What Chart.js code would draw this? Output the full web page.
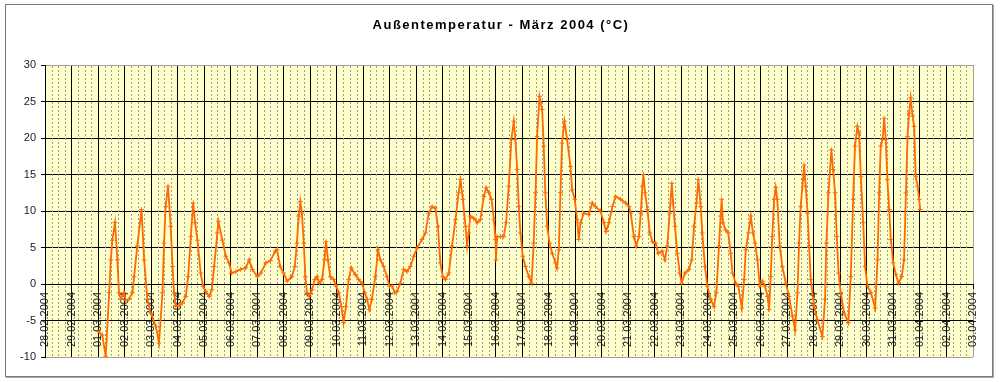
<!DOCTYPE html>
<html>
<head>
<meta charset="utf-8">
<script src="https://cdn.jsdelivr.net/npm/chart.js@4/dist/chart.umd.min.js"></script>
<style>
html,body{margin:0;padding:0;background:#fff;}
#wrap{width:1000px;height:382px;position:relative;}
canvas{display:block;}
</style>
</head>
<body>
<div id="wrap"><canvas id="c" width="1000" height="382"></canvas></div>
<script>
const chartTitle = 'Außentemperatur - März 2004 (°C)';

// x-axis tick labels (one per day, axis value = index)
const dateLabels = [
  '28.02.2004','29.02.2004','01.03.2004','02.03.2004','03.03.2004','04.03.2004',
  '05.03.2004','06.03.2004','07.03.2004','08.03.2004','09.03.2004','10.03.2004',
  '11.03.2004','12.03.2004','13.03.2004','14.03.2004','15.03.2004','16.03.2004',
  '17.03.2004','18.03.2004','19.03.2004','20.03.2004','21.03.2004','22.03.2004',
  '23.03.2004','24.03.2004','25.03.2004','26.03.2004','27.03.2004','28.03.2004',
  '29.03.2004','30.03.2004','31.03.2004','01.04.2004','02.04.2004','03.04.2004'
];

const yTickValues = [-10, -5, 0, 5, 10, 15, 20, 25, 30];

// measurement times, in days on the axis (0 = 28.02.2004 00:00)
const times = [
  2.00,2.16,2.29,2.42,2.48,2.54,2.64,2.73,2.79,2.86,2.98,3.04,3.17,3.30,3.36,3.48,3.64,3.74,3.86,3.99,
  4.18,4.30,4.43,4.49,4.55,4.64,4.74,4.81,4.87,4.93,5.06,5.18,5.31,5.40,5.50,5.59,5.66,5.75,5.87,5.96,
  6.06,6.19,6.29,6.38,6.50,6.54,6.69,6.82,6.94,7.04,7.20,7.38,7.57,7.70,7.82,8.01,8.14,8.33,8.50,8.69,
  8.75,8.87,9.00,9.13,9.31,9.42,9.50,9.57,9.63,9.69,9.76,9.82,9.88,9.97,10.07,10.17,10.26,10.35,10.45,10.54,
  10.60,10.67,10.76,10.89,10.98,11.08,11.18,11.26,11.35,11.45,11.55,11.70,11.83,11.96,12.06,12.15,12.23,12.33,12.46,12.56,
  12.65,12.77,12.90,12.99,13.09,13.19,13.28,13.40,13.53,13.65,13.78,13.91,14.03,14.22,14.35,14.47,14.60,14.72,14.82,14.91,
  15.00,15.10,15.23,15.35,15.48,15.60,15.67,15.76,15.86,15.92,15.98,16.04,16.17,16.30,16.42,16.55,16.64,16.74,16.84,16.93,
  16.99,17.01,17.05,17.18,17.30,17.39,17.49,17.59,17.68,17.74,17.81,17.87,17.93,18.02,18.12,18.25,18.35,18.43,18.50,18.56,
  18.65,18.75,18.81,18.87,18.94,19.03,19.13,19.25,19.31,19.38,19.44,19.50,19.59,19.69,19.82,19.88,19.98,20.07,20.13,20.20,
  20.32,20.51,20.64,20.76,20.95,21.08,21.16,21.27,21.40,21.52,21.71,21.90,22.03,22.09,22.21,22.30,22.40,22.47,22.53,22.57,
  22.63,22.72,22.81,22.91,23.03,23.13,23.28,23.38,23.47,23.56,23.64,23.69,23.76,23.85,23.94,24.01,24.14,24.29,24.39,24.48,
  24.57,24.64,24.73,24.79,24.89,24.98,25.11,25.23,25.32,25.42,25.48,25.52,25.57,25.67,25.77,25.86,25.93,26.05,26.15,26.28,
  26.37,26.43,26.53,26.62,26.70,26.78,26.87,26.96,27.06,27.16,27.25,27.31,27.37,27.43,27.50,27.56,27.62,27.71,27.81,27.94,
  28.06,28.19,28.29,28.38,28.44,28.50,28.59,28.63,28.69,28.76,28.82,28.88,29.01,29.13,29.32,29.42,29.47,29.55,29.66,29.72,
  29.80,29.86,29.93,30.01,30.14,30.30,30.39,30.48,30.55,30.64,30.70,30.77,30.86,30.93,31.02,31.15,31.31,31.40,31.46,31.52,
  31.59,31.65,31.71,31.77,31.84,31.90,31.99,32.09,32.19,32.31,32.40,32.47,32.53,32.59,32.65,32.72,32.78,32.84,32.91,32.97,
  33.01
];

// outdoor temperature in °C at those times
const temps = [
  -6.5,-7.0,-9.9,-1.2,3.3,6.0,8.4,3.3,-1.2,-2.1,-1.2,-2.2,-2.1,-1.2,1.0,5.2,10.2,3.3,-2.1,-4.0,
  -5.8,-8.1,-1.2,5.6,10.6,13.4,7.9,2.4,-1.2,-3.0,-3.0,-2.6,-1.7,1.0,6.5,11.1,8.4,6.0,1.5,-0.3,
  -1.0,-1.7,-0.8,2.4,7.0,8.6,6.0,3.8,2.9,1.5,1.7,2.0,2.2,3.3,2.0,1.0,1.5,2.9,3.2,4.5,
  4.7,2.4,1.5,0.4,1.0,2.4,5.6,9.3,11.3,9.7,5.6,1.0,-1.2,-1.7,-0.8,0.6,1.0,0.1,0.6,3.3,
  5.8,3.3,1.0,0.6,-0.3,-1.2,-3.1,-5.3,-3.1,0.6,2.2,1.3,0.6,0.1,-1.2,-2.1,-3.5,-2.1,1.0,4.7,
  3.3,2.4,1.0,-0.3,-0.3,-1.2,-1.0,0.1,2.0,1.7,2.4,3.8,4.9,6.1,7.0,9.7,10.6,10.4,7.9,2.9,
  1.0,0.6,1.5,5.2,8.8,12.5,14.3,11.6,7.9,5.2,7.0,9.3,9.0,8.4,8.8,12.0,13.2,12.5,11.6,8.8,
  6.1,3.3,6.5,6.5,6.5,8.4,13.4,19.8,22.3,19.8,15.7,10.6,7.0,3.8,2.4,1.0,0.1,5.6,12.5,20.2,
  25.7,23.9,18.9,12.5,7.9,5.6,4.2,2.9,2.2,4.7,12.5,19.3,22.3,19.8,16.1,12.9,11.6,8.8,6.1,8.4,
  9.7,9.5,11.1,10.6,10.0,8.4,7.2,8.4,10.6,12.0,11.6,11.1,10.6,9.7,6.5,5.2,6.5,9.7,13.4,15.0,
  12.5,10.2,7.0,5.8,5.6,4.2,4.5,3.3,5.2,9.7,13.8,11.1,7.9,4.2,1.5,0.1,1.5,2.0,3.3,7.9,
  11.1,14.3,10.6,7.0,2.4,-0.3,-2.1,-3.1,-1.2,5.2,9.3,11.6,8.4,7.4,7.0,4.2,1.5,0.1,-0.3,-3.3,
  0.6,4.7,7.0,9.3,7.0,5.6,3.3,-0.3,0.4,-0.3,-1.7,-3.5,1.0,6.5,11.6,13.2,11.6,5.2,2.4,0.1,
  -1.7,-4.4,-6.3,-1.2,5.6,10.6,14.3,16.3,13.4,9.7,5.2,0.6,-3.1,-4.9,-7.2,-2.1,5.6,12.5,18.4,15.7,
  12.5,6.5,1.5,-1.2,-4.0,-5.3,1.0,11.6,18.9,21.6,20.7,14.7,8.4,2.4,-0.3,-1.2,-3.3,3.3,12.5,18.9,
  19.8,22.7,19.8,14.3,10.2,6.1,2.9,1.3,0.1,1.0,3.3,12.5,20.2,23.4,25.5,23.0,21.6,14.7,13.4,11.6,
  10.2
];

const FONT = 'Arial, "Liberation Sans", sans-serif';
const points = times.map((t, i) => ({ x: t, y: temps[i] }));

const decorPlugin = {
  id: 'decor',
  beforeDraw(chart) {
    const ctx = chart.ctx;
    const a = chart.chartArea;
    ctx.save();
    ctx.fillStyle = '#ffffff';
    ctx.fillRect(0, 0, chart.width, chart.height);
    ctx.fillStyle = '#ffffcc';
    ctx.fillRect(a.left, a.top, a.right - a.left, a.bottom - a.top);
    ctx.restore();
  },
  beforeDatasetsDraw(chart) {
    // dashed minor grid every 6 hours
    const ctx = chart.ctx;
    const xs = chart.scales.x;
    const a = chart.chartArea;
    ctx.save();
    ctx.strokeStyle = '#9c9c9c';
    ctx.lineWidth = 1;
    ctx.setLineDash([2, 2]);
    for (let d = 0; d < dateLabels.length - 1; d++) {
      for (let q = 1; q < 4; q++) {
        const px = Math.round(xs.getPixelForValue(d + q / 4)) + 0.5;
        ctx.beginPath();
        ctx.moveTo(px, a.top + 1);
        ctx.lineTo(px, a.bottom);
        ctx.stroke();
      }
    }
    ctx.restore();
  },
  afterDraw(chart) {
    const ctx = chart.ctx;
    ctx.save();
    // chart frame
    ctx.strokeStyle = '#7a7a7a';
    ctx.lineWidth = 1;
    ctx.strokeRect(5.5, 4.5, 987, 372);
    ctx.strokeStyle = '#a8a8a8';
    ctx.beginPath();
    ctx.moveTo(6, 377.5); ctx.lineTo(993.5, 377.5); ctx.lineTo(993.5, 5);
    ctx.stroke();
    // title
    ctx.fillStyle = '#000';
    ctx.font = 'bold 13px ' + FONT;
    ctx.textAlign = 'center';
    ctx.textBaseline = 'alphabetic';
    if ('letterSpacing' in ctx) ctx.letterSpacing = '1.5px';
    ctx.fillText(chartTitle, 501, 29);
    ctx.restore();
  }
};

new Chart(document.getElementById('c'), {
  type: 'line',
  data: {
    datasets: [{
      data: points,
      borderColor: '#ff6a00',
      borderWidth: 1.8,
      pointStyle: 'cross',
      pointRadius: 2.4,
      pointBorderWidth: 1,
      pointBorderColor: '#ff6a00',
      pointBackgroundColor: '#ff6a00',
      tension: 0,
      fill: false
    }]
  },
  options: {
    responsive: false,
    animation: false,
    devicePixelRatio: 1,
    layout: { padding: { left: 5, top: 65, right: 27, bottom: 25 } },
    plugins: {
      legend: { display: false },
      title: { display: false },
      tooltip: { enabled: false }
    },
    scales: {
      x: {
        type: 'linear',
        min: 0,
        max: dateLabels.length - 1,
        position: { y: 0 },
        ticks: {
          stepSize: 1,
          autoSkip: false,
          minRotation: 90,
          maxRotation: 90,
          padding: 4,
          color: '#1a1a1a',
          font: { family: FONT, size: 11 },
          callback: (v) => (dateLabels[v] !== undefined ? dateLabels[v] : '')
        },
        grid: {
          color: (c) => (c.tick && c.tick.value === dateLabels.length - 1 ? '#a0a0a0' : '#000'),
          lineWidth: 1,
          tickLength: 4,
          tickColor: '#000'
        },
        border: { display: true, color: '#000', width: 1 },
        afterFit(s) { s.paddingLeft = 0; s.paddingRight = 0; }
      },
      y: {
        type: 'linear',
        min: yTickValues[0],
        max: yTickValues[yTickValues.length - 1],
        ticks: {
          stepSize: 5,
          padding: 5,
          color: '#1a1a1a',
          font: { family: FONT, size: 11 }
        },
        grid: {
          color: (c) => (c.tick && (c.tick.value === 30 || c.tick.value === -10) ? '#a0a0a0' : '#000'),
          lineWidth: 1,
          tickLength: 4,
          tickColor: '#000'
        },
        border: { display: true, color: '#000', width: 1 },
        afterFit(s) { s.width = 40; }
      }
    }
  },
  plugins: [decorPlugin]
});
</script>
</body>
</html>
